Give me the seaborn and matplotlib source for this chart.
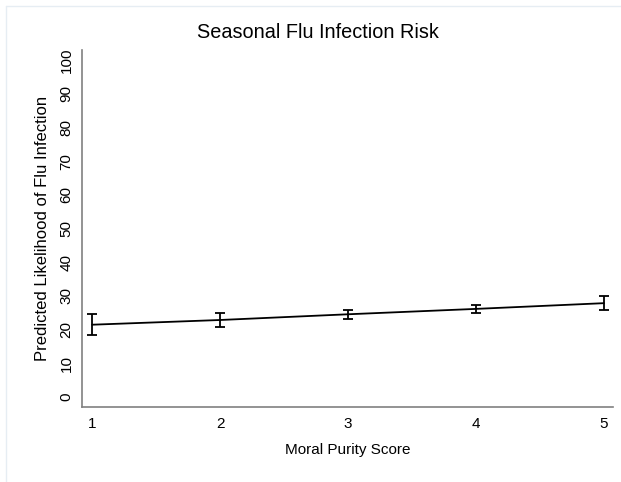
import matplotlib
matplotlib.use("Agg")
import matplotlib.pyplot as plt
import pandas as pd
import seaborn as sns
from matplotlib.lines import Line2D

# values
scores = [1, 2, 3, 4, 5]
predicted = [21.4, 22.8, 24.5, 26.1, 27.8]
ci_low = [18.2, 20.8, 23.2, 25.0, 25.9]
ci_high = [24.5, 25.0, 25.8, 27.3, 29.8]
y_ticks = [0, 10, 20, 30, 40, 50, 60, 70, 80, 90, 100]

df = pd.DataFrame({"Moral Purity Score": scores, "Predicted": predicted,
                   "low": ci_low, "high": ci_high})

sns.set_style("white")
plt.rcParams["font.family"] = ["Liberation Sans", "DejaVu Sans"]
plt.rcParams["text.color"] = "black"
plt.rcParams["axes.labelcolor"] = "black"

fig = plt.figure(figsize=(6.21, 4.82), dpi=100, facecolor="white")
ax = fig.add_axes([0.132, 0.156, 0.855, 0.740])

sns.lineplot(data=df, x="Moral Purity Score", y="Predicted", color="black",
             linewidth=1.3, ax=ax)
ax.errorbar(df["Moral Purity Score"], df["Predicted"],
            yerr=[df["Predicted"] - df["low"], df["high"] - df["Predicted"]],
            fmt="none", ecolor="black", elinewidth=1.3, capsize=3.6, capthick=1.3)

ax.set_xlim(0.92, 5.07)
ax.set_ylim(-3, 103)
ax.set_xticks(scores)
ax.set_yticks(y_ticks)
ax.set_yticklabels([str(t) for t in y_ticks], rotation=90, va="center")
ax.tick_params(axis="both", length=0, labelsize=11, colors="black")
ax.tick_params(axis="x", pad=7)
ax.tick_params(axis="y", pad=6)

for side in ["top", "right"]:
    ax.spines[side].set_visible(False)
for side in ["left", "bottom"]:
    ax.spines[side].set_color("#808080")
    ax.spines[side].set_linewidth(1.2)

ax.set_xlabel("Moral Purity Score", fontsize=11, labelpad=9, color="black")
ax.set_ylabel("Predicted Likelihood of Flu Infection", fontsize=12, labelpad=7,
              color="black")
fig.suptitle("Seasonal Flu Infection Risk", x=0.512, y=0.952, fontsize=14.3,
             color="black")

# faint frame at top and left edges
fig.add_artist(Line2D([6 / 621, 6 / 621], [0, 1 - 6 / 482], color="#e6edf3", lw=1))
fig.add_artist(Line2D([6 / 621, 1], [1 - 6 / 482, 1 - 6 / 482], color="#e6edf3", lw=1))

fig.savefig("out.png", dpi=100, facecolor="white")
